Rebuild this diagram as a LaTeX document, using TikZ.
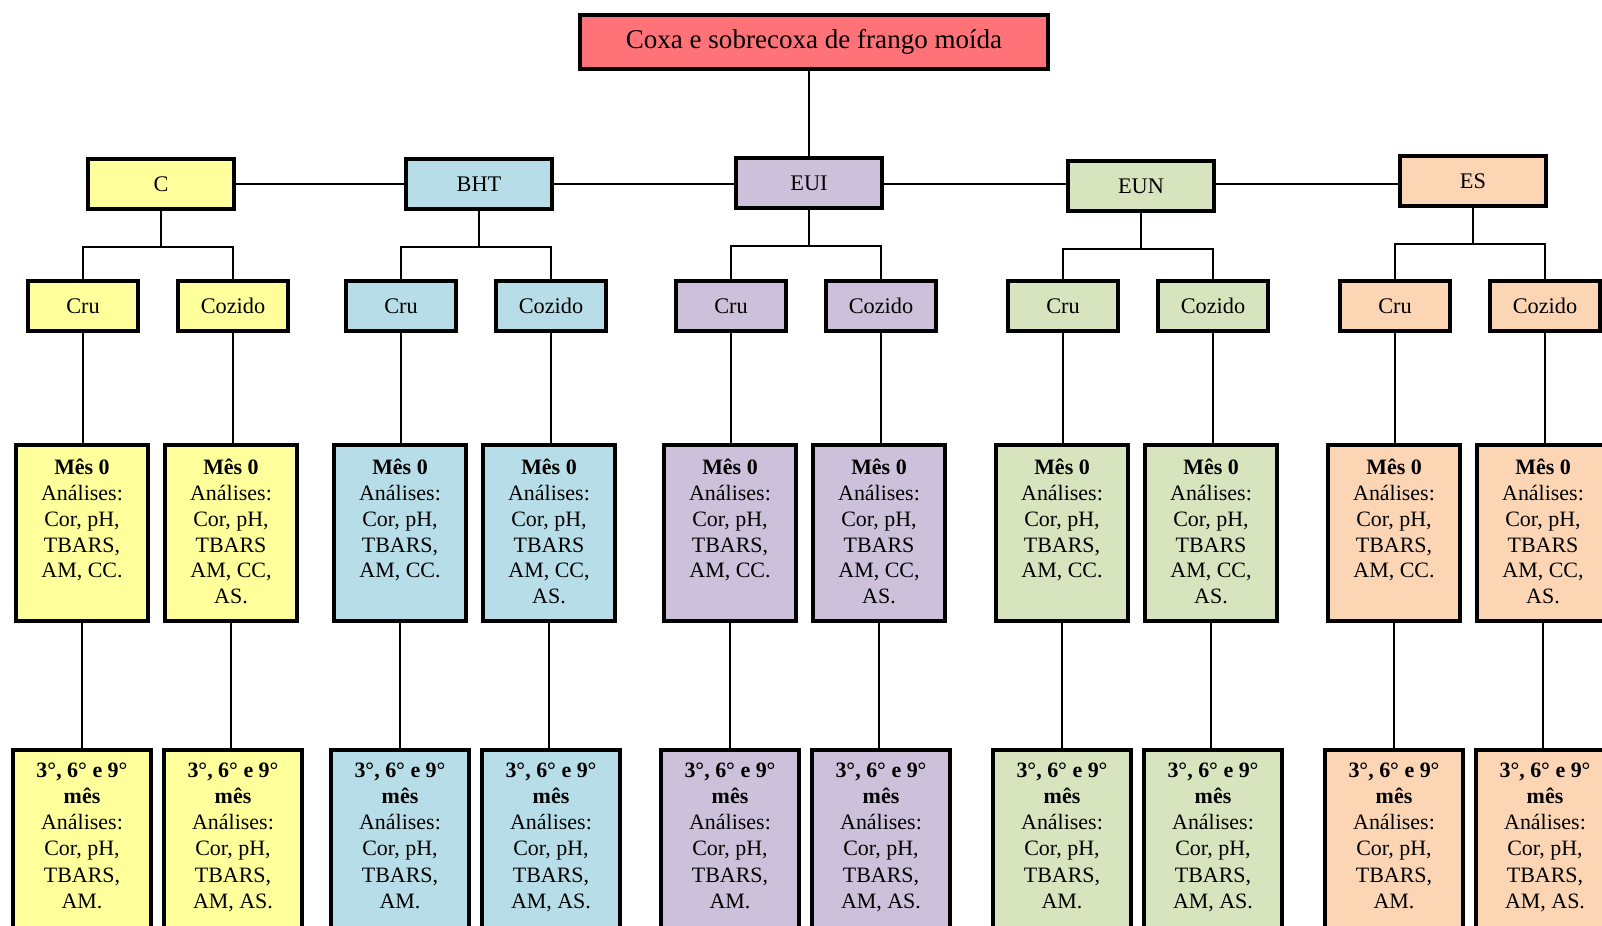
\documentclass[tikz,border=0pt]{standalone}
\usepackage{fontspec}
\setmainfont{Liberation Serif}
\usetikzlibrary{backgrounds}

\definecolor{vermelho}{RGB}{255,115,120}
\definecolor{amarelo}{RGB}{255,255,155}
\definecolor{azul}{RGB}{183,222,232}
\definecolor{lilas}{RGB}{204,192,218}
\definecolor{verde}{RGB}{215,228,189}
\definecolor{laranja}{RGB}{252,213,181}

\newcommand{\analises}[2]{\parbox[t][#1][t]{2.4cm}{\centering #2}}

\tikzset{
  caixa/.style={draw, line width=2.5pt, rectangle, align=center},
  topo/.style={caixa, fill=vermelho, minimum width=9.36cm, minimum height=1.08cm,
    font=\fontsize{15.4}{18}\selectfont},
  grupo/.style={caixa, minimum width=2.92cm, minimum height=1cm,
    font=\fontsize{12.7}{15}\selectfont},
  tipo/.style={caixa, minimum width=2.2cm, minimum height=1cm,
    font=\fontsize{12.7}{15}\selectfont},
  mes0/.style={caixa, anchor=north, inner xsep=0.12cm, inner ysep=0.28cm,
    minimum width=2.64cm, font=\fontsize{12.5}{14.7}\selectfont},
  mes9/.style={caixa, anchor=north, inner xsep=0.12cm, inner ysep=0.25cm,
    minimum width=2.76cm, font=\fontsize{12.5}{14.9}\selectfont},
  linha/.style={line width=1.4pt}
}

\begin{document}
\begin{tikzpicture}[x=0.02cm,y=-0.02cm]
    \useasboundingbox (0,0) rectangle (1602,926);
    \clip (0,0) rectangle (1602,926);
    \node[topo] (coxa) at (814,42) {Coxa e sobrecoxa de frango moída};
    \foreach \g/\lab/\cor/\x/\y in {c/C/amarelo/161/184, bht/BHT/azul/479/184,
        eui/EUI/lilas/809/183, eun/EUN/verde/1141/186, es/ES/laranja/1473/181}{
        \node[grupo, fill=\cor] (\g) at (\x,\y) {\lab};
        \node[tipo, fill=\cor] (\g-cru) at (\x-78,306) {Cru};
        \node[tipo, fill=\cor] (\g-coz) at (\x+72,306) {Cozido};
        % mes 0
        \node[mes0, fill=\cor] (\g-cru-m0) at (\x-79,443)
            {\analises{2.96cm}{\textbf{Mês 0}\\Análises:\\Cor, pH,\\TBARS,\\AM, CC.}};
        \node[mes0, fill=\cor] (\g-coz-m0) at (\x+70,443)
            {\analises{2.96cm}{\textbf{Mês 0}\\Análises:\\Cor, pH,\\TBARS\\AM, CC,\\AS.}};
        % 3, 6 e 9 mes
        \node[mes9, fill=\cor] (\g-cru-m9) at (\x-79,748)
            {\analises{4cm}{\textbf{3°, 6° e 9°}\\\textbf{mês}\\Análises:\\Cor, pH,\\TBARS,\\AM.}};
        \node[mes9, fill=\cor] (\g-coz-m9) at (\x+72,748)
            {\analises{4cm}{\textbf{3°, 6° e 9°}\\\textbf{mês}\\Análises:\\Cor, pH,\\TBARS,\\AM, AS.}};
        \begin{scope}[on background layer]
            \draw[linha] (\g.south) -- ++(0,36) coordinate (\g-j);
            \draw[linha] (\g-cru.north) |- (\g-j) -| (\g-coz.north);
            \draw[linha] (\g-cru) -- (\g-cru |- \g-cru-m0.north);
            \draw[linha] (\g-coz) -- (\g-coz |- \g-coz-m0.north);
            \draw[linha] (\g-cru-m0) -- (\g-cru-m0 |- \g-cru-m9.north);
            \draw[linha] (\g-coz-m0) -- (\g-coz-m0 |- \g-coz-m9.north);
        \end{scope}
    }
    \begin{scope}[on background layer]
        \draw[linha] (c) -- (c -| es);
        \draw[linha] (coxa.south -| eui) -- (eui);
    \end{scope}
\end{tikzpicture}
\end{document}
